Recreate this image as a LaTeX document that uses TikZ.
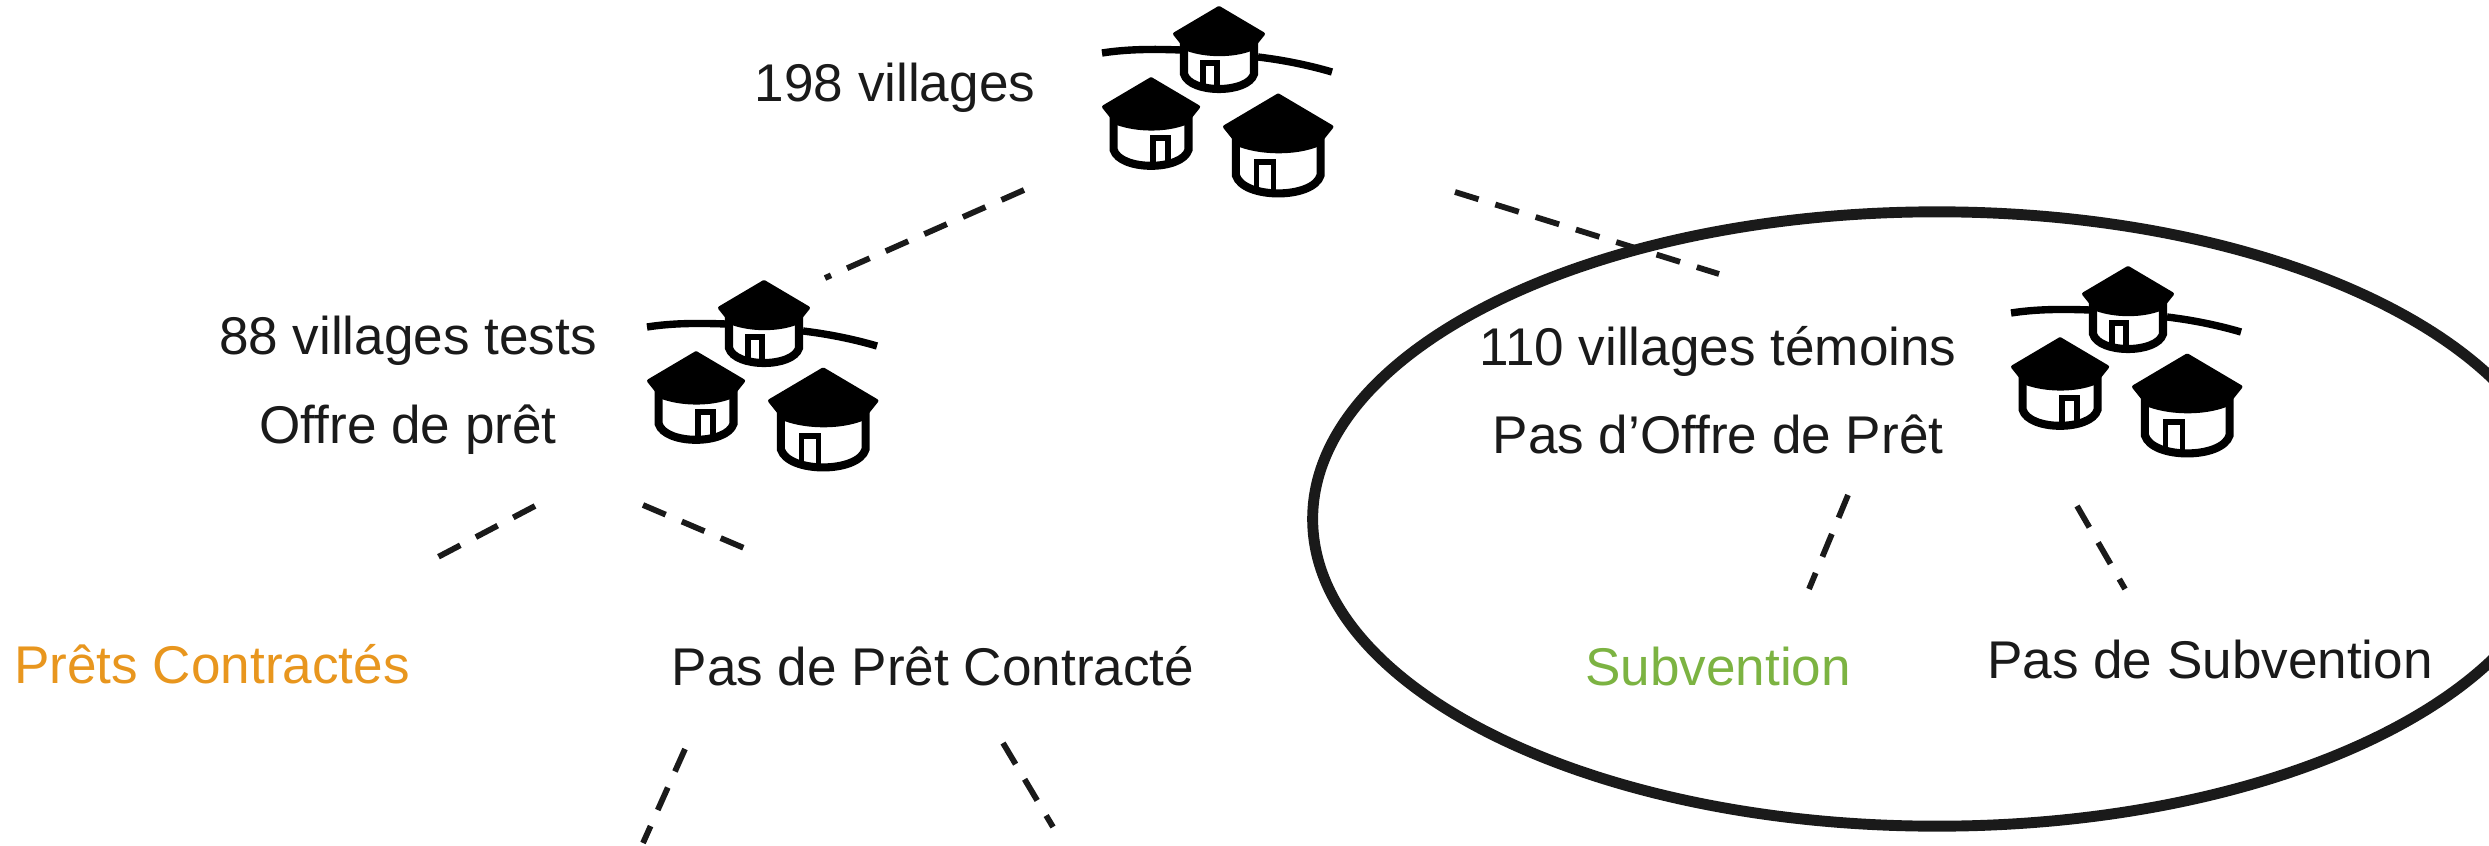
\documentclass[tikz,border=0pt]{standalone}
\usepackage{fontspec}
\setmainfont{Liberation Sans}
\usetikzlibrary{shapes.geometric}
\definecolor{inkc}{HTML}{1A1A1A}
\definecolor{loanc}{HTML}{E8961E}
\definecolor{grantc}{HTML}{7CB342}
\begin{document}
\begin{tikzpicture}[x=.01cm,y=-.01cm]
	\tikzset{label/.style = {anchor=base,inner sep=0pt,text=inkc,font=\fontsize{15.1}{18}\selectfont}}
	\tikzset{dashline/.style = {inkc,line width=1.65pt,dash pattern=on 7pt off 5pt}}
	\tikzset{pics/hut/.style = {code = {
		\draw[black,line width=2.3pt,fill=white] (-34,33) -- (-34,68) .. controls (-28,88) and (30,88) .. (36,68) -- (36,33);
		\filldraw[black,line width=1.1pt,line join=round] (1,2) -- (45,28) -- (33,43) .. controls (15,50) and (-12,50) .. (-31,43) -- (-43,28) -- cycle;
		\draw[black,line width=1.6pt] (#1-7,80) -- (#1-7,57) -- (#1+7,57) -- (#1+7,80);
	}}}
	\tikzset{pics/village/.style = {code = {
		\draw[black,line width=2.1pt] (-1,48) .. controls (25,44) and (50,44) .. (78,45);
		\draw[black,line width=2.1pt] (155,52) .. controls (180,55) and (205,60) .. (229,67);
		\pic at (115,1) {hut=-8};
		\pic[scale=1.07] at (47,72) {hut=10};
		\pic[scale=1.21] at (174,88) {hut=-10};
	}}}
	\useasboundingbox (0,0) rectangle (2489,846);
	% Draw circled group
	\node[draw=inkc,ellipse,line width=3.1pt,minimum width=12.48cm,minimum height=6.14cm,inner sep=0pt] (G) at (1937,519) {};
	% Draw villages
	\pic (V0) at (1103,5) {village};
	\pic (V1) at (648,279) {village};
	\pic (V2) at (2012,265) {village};
	% Draw labels
	\node[label] (A) at (895,102) {198 villages};
	\node[label] (B) at (408,354) {88 villages tests};
	\node[label] (C) at (408,443) {Offre de prêt};
	\node[label] (D) at (1718,366) {110 villages témoins};
	\node[label] (E) at (1718,453) {Pas d’Offre de Prêt};
	\node[label,text=loanc] (F) at (212,683) {Prêts Contractés};
	\node[label] (H) at (933,685) {Pas de Prêt Contracté};
	\node[label,text=grantc] (I) at (1718,685) {Subvention};
	\node[label] (J) at (2210,678) {Pas de Subvention};
	% Draw connector ends
	\coordinate (a1) at (1024,190);
	\coordinate (a2) at (825,278);
	\coordinate (b1) at (1455,192);
	\coordinate (b2) at (1719,274);
	\coordinate (c1) at (535,506);
	\coordinate (c2) at (438,557);
	\coordinate (d1) at (643,505);
	\coordinate (d2) at (744,548);
	\coordinate (e1) at (685,749);
	\coordinate (e2) at (643,843);
	\coordinate (f1) at (1003,743);
	\coordinate (f2) at (1053,827);
	\coordinate (g1) at (1848,495);
	\coordinate (g2) at (1809,589);
	\coordinate (h1) at (2077,506);
	\coordinate (h2) at (2125,589);
	\draw[dashline] (a1) -- (a2);
	\draw[dashline] (b1) -- (b2);
	\draw[dashline] (c1) -- (c2);
	\draw[dashline] (d1) -- (d2);
	\draw[dashline] (e1) -- (e2);
	\draw[dashline] (f1) -- (f2);
	\draw[dashline] (g1) -- (g2);
	\draw[dashline] (h1) -- (h2);
\end{tikzpicture}
\end{document}
